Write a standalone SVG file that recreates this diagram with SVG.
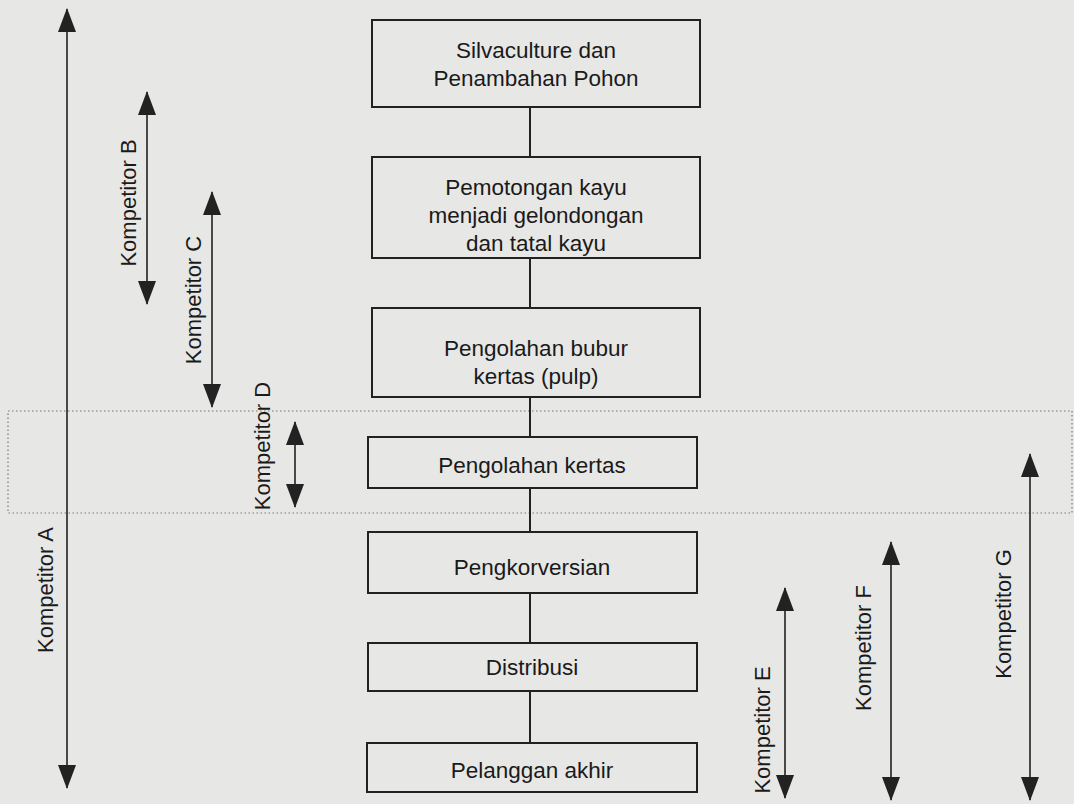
<svg xmlns="http://www.w3.org/2000/svg" width="1074" height="804" viewBox="0 0 1074 804">
<style>
.box{fill:none;stroke:#222;stroke-width:2}
.t{font-family:"Liberation Sans",Arial,sans-serif;font-size:22.5px;fill:#1a1a1a;text-anchor:middle}
.lbl{font-family:"Liberation Sans",Arial,sans-serif;font-size:22px;fill:#1a1a1a;text-anchor:middle}
.con{stroke:#222;stroke-width:2;fill:none}
.arr{stroke:#222;stroke-width:1.6;fill:none;marker-start:url(#ah);marker-end:url(#ah)}
</style>
<defs>
<marker id="ah" viewBox="0 0 24 18" refX="23" refY="9" markerWidth="24" markerHeight="18" markerUnits="userSpaceOnUse" orient="auto-start-reverse">
<path d="M0,0 L24,9 L0,18 Z" fill="#222"/>
</marker>
</defs>
<rect width="1074" height="804" fill="#e7e7e5"/>
<rect x="8" y="411" width="1064" height="102" fill="none" stroke="#777" stroke-width="1.2" stroke-dasharray="1.5 2.5"/>
<g id="connectors">
<line class="con" x1="530" y1="107" x2="530" y2="157"/>
<line class="con" x1="530" y1="258" x2="530" y2="308"/>
<line class="con" x1="530" y1="397" x2="530" y2="437"/>
<line class="con" x1="530" y1="488" x2="530" y2="532"/>
<line class="con" x1="530" y1="593" x2="530" y2="643"/>
<line class="con" x1="530" y1="691" x2="530" y2="743"/>
</g>
<g id="n1"><rect class="box" x="372" y="20" width="328" height="87"/><text class="t" x="536" y="58">Silvaculture dan</text><text class="t" x="536" y="86">Penambahan Pohon</text></g>
<g id="n2"><rect class="box" x="372" y="157" width="328" height="101"/><text class="t" x="536" y="195">Pemotongan kayu</text><text class="t" x="536" y="223">menjadi gelondongan</text><text class="t" x="536" y="251">dan tatal kayu</text></g>
<g id="n3"><rect class="box" x="372" y="308" width="328" height="89"/><text class="t" x="536" y="356">Pengolahan bubur</text><text class="t" x="536" y="384">kertas (pulp)</text></g>
<g id="n4"><rect class="box" x="368" y="437" width="329" height="51"/><text class="t" x="532" y="473">Pengolahan kertas</text></g>
<g id="n5"><rect class="box" x="368" y="532" width="329" height="61"/><text class="t" x="532" y="575">Pengkorversian</text></g>
<g id="n6"><rect class="box" x="368" y="643" width="329" height="48"/><text class="t" x="532" y="675">Distribusi</text></g>
<g id="n7"><rect class="box" x="367" y="743" width="330" height="49"/><text class="t" x="532" y="778">Pelanggan akhir</text></g>
<g id="kA"><line class="arr" x1="67" y1="9" x2="67" y2="788"/><text class="lbl" transform="translate(53,590) rotate(-90)">Kompetitor A</text></g>
<g id="kB"><line class="arr" x1="147" y1="92" x2="147" y2="304"/><text class="lbl" transform="translate(136,203) rotate(-90)">Kompetitor B</text></g>
<g id="kC"><line class="arr" x1="212" y1="192" x2="212" y2="407"/><text class="lbl" transform="translate(201,300) rotate(-90)">Kompetitor C</text></g>
<g id="kD"><line class="arr" x1="295" y1="422" x2="295" y2="507"/><text class="lbl" transform="translate(270,446) rotate(-90)">Kompetitor D</text></g>
<g id="kE"><line class="arr" x1="785" y1="588" x2="785" y2="798"/><text class="lbl" transform="translate(770,730) rotate(-90)">Kompetitor E</text></g>
<g id="kF"><line class="arr" x1="891" y1="542" x2="891" y2="800"/><text class="lbl" transform="translate(871,648) rotate(-90)">Kompetitor F</text></g>
<g id="kG"><line class="arr" x1="1030" y1="454" x2="1030" y2="800"/><text class="lbl" transform="translate(1011,614) rotate(-90)">Kompetitor G</text></g>
</svg>
